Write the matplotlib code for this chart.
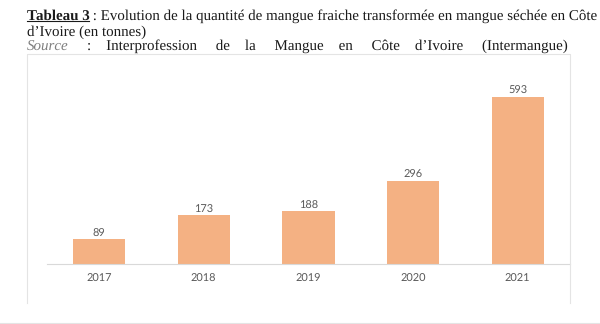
import matplotlib
matplotlib.use("Agg")
import matplotlib.pyplot as plt
from matplotlib.lines import Line2D

plt.rcParams["text.hinting"] = "no_hinting"
plt.rcParams["text.hinting_factor"] = 1

years = ["2017", "2018", "2019", "2020", "2021"]
values = [89, 173, 188, 296, 593]
title_bold = "Tableau 3"
title_rest = " : Evolution de la quantité de mangue fraiche transformée en mangue séchée en Côte"
title_line2 = "d’Ivoire (en tonnes)"
source_label = "Source"
source_words = [":", "Interprofession", "de", "la", "Mangue", "en", "Côte", "d’Ivoire", "(Intermangue)"]

W, H = 600, 324
fig = plt.figure(figsize=(6, 3.24), dpi=100)
fig.patch.set_facecolor("white")

def fx(px):
    return px / W

def fy(py):
    return 1 - py / H

# axes
ax_left, ax_right, ax_base, ax_top = 46.7, 570, 264.3, 80
ax = fig.add_axes([fx(ax_left), fy(ax_base), (ax_right - ax_left) / W, (ax_base - ax_top) / H])
xs = list(range(len(years)))
ax.bar(xs, values, width=0.5, color="#F4B183", zorder=2)
ax.set_xlim(-0.5, len(years) - 0.5)
ax.set_ylim(0, 593 * (ax_base - ax_top) / (264.3 - 96.7))
for s in ["top", "right", "left"]:
    ax.spines[s].set_visible(False)
ax.spines["bottom"].set_color("#d9d9d9")
ax.spines["bottom"].set_linewidth(0.8)
ax.set_yticks([])
ax.set_xticks(xs)
ax.set_xticklabels(years, fontfamily="Lato", fontsize=8, color="#595959")
ax.tick_params(axis="x", length=0, pad=6.8)
for x, v in zip(xs, values):
    ax.annotate(str(v), (x, v), xytext=(0, 0.6), textcoords="offset points",
                ha="center", va="bottom", fontfamily="Lato", fontsize=8, color="#595959")
ax.patch.set_alpha(0)

# frame (left, top, right only)
fl, fr, ft, fb = 26.7, 570, 53.5, 302.7
fig.add_artist(Line2D([fx(fl), fx(fl), fx(fr), fx(fr)], [fy(fb), fy(ft), fy(ft), fy(fb)],
                      transform=fig.transFigure, color="#e4e4e4", linewidth=0.8))
fig.add_artist(Line2D([0, 1], [fy(322.7), fy(322.7)], transform=fig.transFigure, color="#e4e4e4", linewidth=0.8))

# title
x0, x1 = 26.7, 567.7
renderer = fig.canvas.get_renderer()
fam = "Liberation Serif"
ink = "#1a1a1a"

def width_of(s, **kw):
    t = fig.text(0, 0.5, s, **kw)
    w = t.get_window_extent(renderer).width
    t.remove()
    return w

fs = 10.0
for _ in range(3):
    total = width_of(title_bold, fontfamily=fam, fontweight="bold", fontsize=fs) + \
            width_of(title_rest, fontfamily=fam, fontsize=fs)
    fs = fs * (x1 - x0) / total

wb = width_of(title_bold, fontfamily=fam, fontweight="bold", fontsize=fs)
fig.text(fx(x0), fy(19.5), title_bold, fontfamily=fam, fontweight="bold", fontsize=fs, color=ink, va="baseline")
fig.text(fx(x0 + wb), fy(19.5), title_rest, fontfamily=fam, fontsize=fs, color=ink, va="baseline")
fig.add_artist(Line2D([fx(x0), fx(x0 + wb)], [fy(21.3), fy(21.3)], transform=fig.transFigure, color=ink, linewidth=0.8))
fig.text(fx(x0), fy(35.5), title_line2, fontfamily=fam, fontsize=fs, color=ink, va="baseline")

# justified source line: italic label + one text whose gaps are filled with spaces
reg = dict(fontfamily=fam, fontsize=fs)
w_src = width_of(source_label, fontstyle="italic", **reg)
w_words = [width_of(w, **reg) for w in source_words]
w_space = (width_of("a" + " " * 20 + "a", **reg) - width_of("aa", **reg)) / 20
gap = (x1 - x0 - w_src - sum(w_words)) / len(source_words)
n_first = max(1, round(gap / w_space))
start = x0 + w_src + n_first * w_space
line = ""
pos = start
target = x0 + w_src + gap
for i, w in enumerate(source_words):
    if i > 0:
        target += gap
        n = max(1, round((target - pos) / w_space))
        line += " " * n
        pos += n * w_space
    line += w
    pos += w_words[i]
    target += w_words[i]
fig.text(fx(x0), fy(50.5), source_label, fontstyle="italic", color="#7f7f7f", va="baseline", **reg)
fig.text(fx(start), fy(49.5), line, color=ink, va="baseline", **reg)

fig.savefig("out.png", dpi=100)
